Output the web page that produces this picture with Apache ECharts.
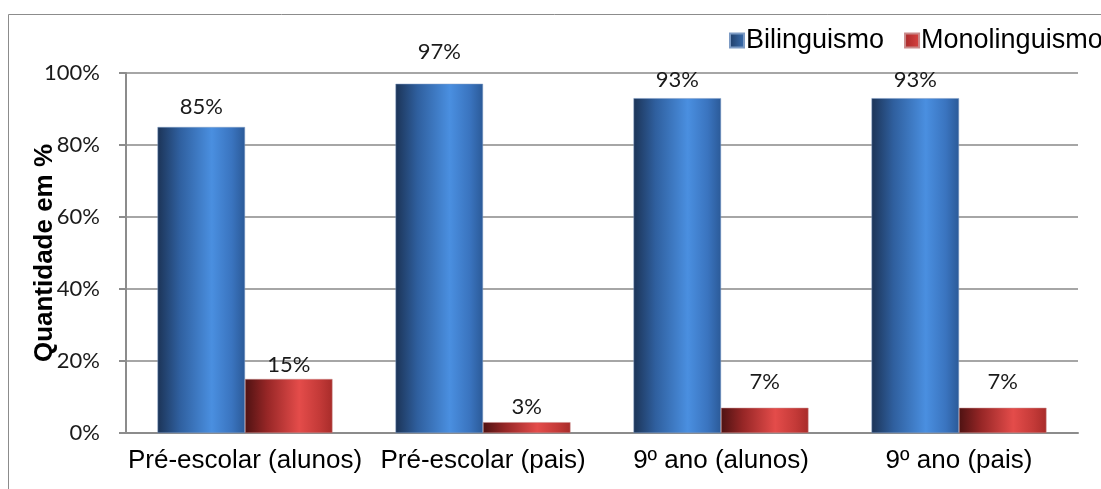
<!DOCTYPE html>
<html>
<head>
<meta charset="utf-8">
<script src="https://cdn.jsdelivr.net/npm/echarts@6/dist/echarts.min.js"></script>
<style>
  html, body { margin: 0; padding: 0; background: #ffffff; }
  #chart { width: 1101px; height: 489px; }
</style>
</head>
<body>
<div id="chart"></div>
<script>
// Survey groups and the share of answers per language profile (%)
const categories = ['Pré-escolar (alunos)', 'Pré-escolar (pais)', '9º ano (alunos)', '9º ano (pais)'];
const bilinguismo = [85, 97, 93, 93];
const monolinguismo = [15, 3, 7, 7];
const yTicks = [0, 20, 40, 60, 80, 100];

// Gap between each value label and the top of its bar (px)
const bilLabelGap = [9, 21, 7, 7];
const monoLabelGap = [3, 4, 15, 15];

const chart = echarts.init(document.getElementById('chart'));

function cylinder(stops) {
  return new echarts.graphic.LinearGradient(0, 0, 1, 0, stops.map(([o, c]) => ({ offset: o, color: c })));
}
const blueFill = cylinder([[0, '#1c3457'], [0.25, '#2f5f9e'], [0.62, '#4a8fe0'], [0.85, '#3a74bf'], [1, '#2b5a98']]);
const redFill = cylinder([[0, '#4e1212'], [0.25, '#962626'], [0.62, '#e44c4a'], [0.85, '#c43a38'], [1, '#a82c2a']]);

const labelFont = { fontFamily: 'Lato, "Open Sans", sans-serif', fontSize: 22, color: '#1a1a1a' };
const arial = '"Liberation Sans", Arial, sans-serif';

function seriesData(values, gaps) {
  return values.map((v, i) => ({ value: v, label: { distance: gaps[i] } }));
}

chart.setOption({
  animation: false,
  backgroundColor: '#ffffff',
  graphic: [
    { type: 'polyline', shape: { points: [[8.5, 489], [8.5, 14.5], [1101, 14.5]] },
      style: { stroke: '#8c8c8c', lineWidth: 1, fill: null } }
  ],
  legend: {
    top: 22, left: 724, width: 460,
    orient: 'horizontal',
    itemWidth: 14, itemHeight: 14, itemGap: 20,
    icon: 'rect',
    textStyle: { fontFamily: arial, fontSize: 27, color: '#000', padding: [0, 0, 0, -3] },
    data: [
      { name: 'Bilinguismo', itemStyle: { color: cylinder([[0, '#1f3d66'], [1, '#3b6fb0']]) } },
      { name: 'Monolinguismo', itemStyle: { color: cylinder([[0, '#a82828'], [1, '#d84442']]) } }
    ]
  },
  grid: { left: 126, right: 23, top: 73, bottom: 56, containLabel: false },
  xAxis: {
    type: 'category',
    data: categories,
    axisLine: { show: true, lineStyle: { color: '#8c8c8c', width: 2 } },
    axisTick: { show: false },
    axisLabel: { fontFamily: arial, fontSize: 26, color: '#000', margin: 15, interval: 0 }
  },
  yAxis: {
    type: 'value',
    min: 0, max: 100, interval: 20,
    name: 'Quantidade em %',
    nameLocation: 'middle',
    nameGap: 68,
    nameMoveOverlap: false,
    nameTextStyle: { fontFamily: arial, fontSize: 26, fontWeight: 'bold', color: '#000' },
    axisLine: { show: true, lineStyle: { color: '#8c8c8c', width: 2 } },
    axisTick: { show: true, inside: false, length: 7, lineStyle: { color: '#8c8c8c', width: 2 } },
    axisLabel: {
      fontFamily: 'Lato, "Open Sans", sans-serif', fontSize: 22, color: '#1a1a1a', margin: 26,
      formatter: v => (yTicks.includes(v) ? v + '%' : '')
    },
    splitLine: { show: true, lineStyle: { color: '#a6a6a6', width: 2 } }
  },
  series: [
    {
      name: 'Bilinguismo', type: 'bar',
      data: seriesData(bilinguismo, bilLabelGap),
      barGap: '0%', barCategoryGap: '26.5%',
      itemStyle: { color: blueFill, borderColor: '#7d9bc4', borderWidth: 0.5 },
      label: { show: true, position: 'top', formatter: '{c}%', ...labelFont }
    },
    {
      name: 'Monolinguismo', type: 'bar',
      data: seriesData(monolinguismo, monoLabelGap),
      barGap: '0%', barCategoryGap: '26.5%',
      itemStyle: { color: redFill, borderColor: '#c98a8a', borderWidth: 0.5 },
      label: { show: true, position: 'top', formatter: '{c}%', ...labelFont }
    }
  ]
});
</script>
</body>
</html>
